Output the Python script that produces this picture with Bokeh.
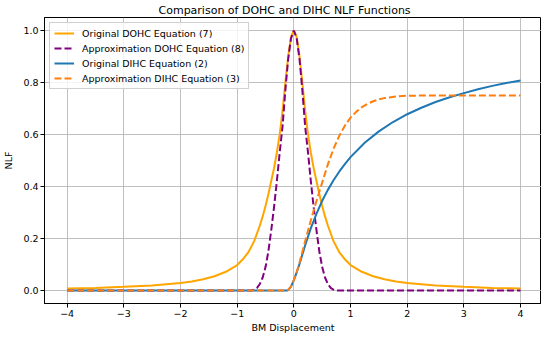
from bokeh.plotting import figure
from bokeh.models import Legend, LegendItem, FixedTicker, PrintfTickFormatter
from bokeh.embed import file_html
from bokeh.resources import INLINE

# ---- data ----
dohc_orig_x = [-4, -3.5, -3, -2.5, -2, -1.8, -1.6, -1.4, -1.2, -1.0, -0.9, -0.8, -0.7, -0.6,
               -0.55, -0.5, -0.45, -0.4, -0.35, -0.3, -0.25, -0.2, -0.15, -0.1, -0.05, 0,
               0.05, 0.1, 0.15, 0.2, 0.25, 0.3, 0.35, 0.4, 0.45, 0.5, 0.55, 0.6, 0.7, 0.8,
               0.9, 1.0, 1.2, 1.4, 1.6, 1.8, 2, 2.5, 3, 3.5, 4]
dohc_orig_y = [0.008, 0.010, 0.014, 0.019, 0.029, 0.035, 0.043, 0.055, 0.072, 0.098, 0.12, 0.148, 0.19, 0.25,
               0.285, 0.325, 0.37, 0.42, 0.47, 0.53, 0.6, 0.69, 0.8, 0.9, 0.975, 1.0,
               0.975, 0.9, 0.8, 0.69, 0.6, 0.53, 0.47, 0.42, 0.37, 0.325, 0.285, 0.25, 0.19, 0.148,
               0.12, 0.098, 0.072, 0.055, 0.043, 0.035, 0.029, 0.019, 0.014, 0.010, 0.008]

dohc_apx_x = [-4, -0.75, -0.7, -0.65, -0.6, -0.55, -0.5, -0.45, -0.4, -0.35, -0.3, -0.25, -0.2, -0.15, -0.1, -0.05, 0,
              0.05, 0.1, 0.15, 0.2, 0.25, 0.3, 0.35, 0.4, 0.45, 0.5, 0.55, 0.6, 0.65, 0.7, 0.75, 4]
dohc_apx_y = [0.0, 0.0, 0.003, 0.01, 0.025, 0.05, 0.09, 0.15, 0.23, 0.32, 0.42, 0.53, 0.63, 0.77, 0.89, 0.97, 1.0,
              0.97, 0.89, 0.77, 0.63, 0.53, 0.42, 0.32, 0.23, 0.15, 0.09, 0.05, 0.025, 0.01, 0.003, 0.0, 0.0]

dihc_orig_x = [-4, -0.12, -0.1, -0.05, 0, 0.05, 0.1, 0.2, 0.3, 0.4, 0.5, 0.6, 0.7, 0.8, 0.9, 1.0,
               1.25, 1.5, 1.75, 2.0, 2.25, 2.5, 2.75, 3.0, 3.25, 3.5, 3.75, 4.0]
dihc_orig_y = [0.0, 0.0, 0.002, 0.015, 0.04, 0.07, 0.102, 0.174, 0.24, 0.296, 0.345, 0.387, 0.424, 0.457, 0.486, 0.513,
               0.568, 0.612, 0.648, 0.678, 0.703, 0.725, 0.743, 0.759, 0.774, 0.787, 0.798, 0.808]

dihc_apx_x = [-4, -0.12, -0.1, -0.05, 0, 0.05, 0.1, 0.2, 0.3, 0.4, 0.5, 0.6, 0.7, 0.8, 0.9, 1.0,
              1.1, 1.2, 1.3, 1.4, 1.5, 1.6, 1.8, 2.0, 2.3, 4.0]
dihc_apx_y = [0.0, 0.0, 0.002, 0.015, 0.04, 0.07, 0.108, 0.19, 0.27, 0.345, 0.415, 0.485, 0.545, 0.594, 0.634, 0.665,
              0.687, 0.705, 0.718, 0.728, 0.735, 0.74, 0.746, 0.749, 0.75, 0.75]

x_ticks = [-4, -3, -2, -1, 0, 1, 2, 3, 4]
x_tick_labels = ["\u22124", "\u22123", "\u22122", "\u22121", "0", "1", "2", "3", "4"]
y_ticks = [0.0, 0.2, 0.4, 0.6, 0.8, 1.0]

series_names = ["Original DOHC Equation (7)", "Approximation DOHC Equation (8)",
                "Original DIHC Equation (2)", "Approximation DIHC Equation (3)"]

FONT = "DejaVu Sans"

p = figure(width=541, height=341, x_range=(-4.4, 4.37), y_range=(-0.05, 1.05),
           output_backend="svg", toolbar_location=None,
           min_border_left=35, min_border_right=0, min_border_top=12, min_border_bottom=38,
           border_fill_color="white")

p.title.text = "Comparison of DOHC and DIHC NLF Functions"
p.title.align = "left"
p.title.offset = 114
p.title.text_font = FONT
p.title.text_font_size = "11px"
p.title.text_font_style = "normal"
p.title.text_color = "black"
p.title.standoff = 2

p.outline_line_color = "black"
p.outline_line_width = 1
p.outline_line_alpha = 1

r1 = p.line(dohc_orig_x, dohc_orig_y, line_color="#FFA500", line_width=2)
r2 = p.line(dohc_apx_x, dohc_apx_y, line_color="#800080", line_width=2, line_dash="7 3")
r3 = p.line(dihc_orig_x, dihc_orig_y, line_color="#1f77b4", line_width=2)
r4 = p.line(dihc_apx_x, dihc_apx_y, line_color="#ff7f0e", line_width=2, line_dash="7 3")

for ax in (p.xaxis, p.yaxis):
    ax.axis_line_color = "black"
    ax.major_tick_line_color = "black"
    ax.major_tick_out = 4
    ax.major_tick_in = 0
    ax.minor_tick_line_color = None
    ax.major_label_text_font = FONT
    ax.major_label_text_font_size = "9.5px"
    ax.major_label_text_color = "black"
    ax.axis_label_text_font = FONT
    ax.axis_label_text_font_size = "9.5px"
    ax.axis_label_text_font_style = "normal"
    ax.axis_label_text_color = "black"
    ax.major_label_standoff = 2

p.xaxis.ticker = FixedTicker(ticks=x_ticks)
p.xaxis.major_label_overrides = {t: l for t, l in zip(x_ticks, x_tick_labels)}
p.yaxis.ticker = FixedTicker(ticks=y_ticks)
p.yaxis.formatter = PrintfTickFormatter(format="%.1f")
p.xaxis.axis_label = "BM Displacement"
p.yaxis.axis_label = "NLF"
p.xaxis.axis_label_standoff = 2
p.yaxis.axis_label_standoff = 6

p.xgrid.ticker = FixedTicker(ticks=x_ticks)
p.ygrid.ticker = FixedTicker(ticks=y_ticks)
p.grid.grid_line_color = "#b0b0b0"
p.grid.grid_line_alpha = 0.8
p.grid.grid_line_width = 1

legend = Legend(items=[LegendItem(label=n, renderers=[r]) for n, r in zip(series_names, [r1, r2, r3, r4])],
                location="top_left", margin=5, padding=4, spacing=3, label_standoff=8,
                glyph_width=20, glyph_height=12, label_height=12,
                label_text_font=FONT, label_text_font_size="9.5px", label_text_color="black",
                border_line_color="#d0d0d0", border_line_alpha=1,
                background_fill_color="white", background_fill_alpha=0.8)
p.add_layout(legend)

open("out.html", "w").write(file_html(p, INLINE))
